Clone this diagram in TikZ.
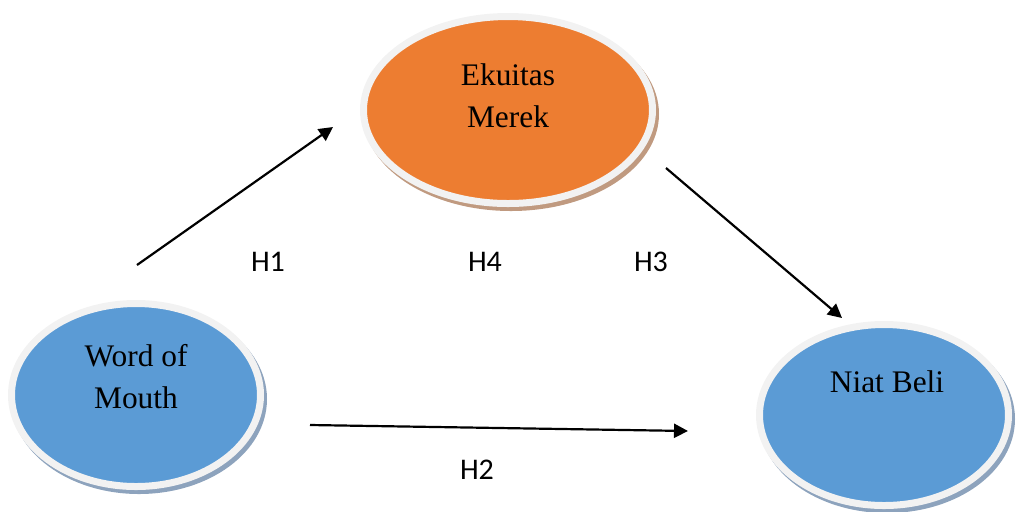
\documentclass[tikz,border=0pt]{standalone}
\usepackage{fontspec}
\setmainfont{Liberation Serif}
\newfontfamily\hfont{Carlito}
\usetikzlibrary{shapes.geometric,arrows.meta}
\definecolor{ekorange}{HTML}{ED7D31}
\definecolor{mblue}{HTML}{5B9BD5}
\definecolor{rimgray}{HTML}{F2F2F2}
\definecolor{orshadow}{HTML}{C09A80}
\definecolor{blshadow}{HTML}{8DA3BD}
\tikzset{
	var/.style={ellipse, draw=rimgray, line width=3.5pt, inner sep=0pt},
	varshadow/.style={preaction={draw=#1, fill=#1, line width=3.5pt,
		transform canvas={xshift=1.5pt, yshift=-2pt}}},
	vartext/.style={align=center, font=\fontsize{15.7}{21}\selectfont},
	hyp/.style={font=\hfont\fontsize{15}{17}\selectfont},
	path/.style={line width=1.1pt, -{Triangle[length=7pt, width=7pt]}}
}
\begin{document}
\begin{tikzpicture}[x=0.5pt, y=-0.5pt]
\useasboundingbox (0,0) rectangle (1018,511);
% variables
\node[var, varshadow=orshadow, fill=ekorange, minimum width=144.5pt, minimum height=93.5pt] (ekuitas) at (508,110) {};
\node[var, varshadow=blshadow, fill=mblue, minimum width=124.5pt, minimum height=91.5pt] (wom) at (136,395) {};
\node[var, varshadow=blshadow, fill=mblue, minimum width=124.5pt, minimum height=90.5pt] (niat) at (884,415) {};
\node[vartext] (ekuitastxt) at (508,96) {Ekuitas\\Merek};
\node[vartext] (womtxt) at (136,377) {Word of\\Mouth};
\node[vartext] (niattxt) at (887,382) {Niat Beli};
% arrow ends
\coordinate (h1a) at (137,265);
\coordinate (h1b) at (333,127);
\coordinate (h3a) at (666,168);
\coordinate (h3b) at (842,318);
\coordinate (h2a) at (310,425);
\coordinate (h2b) at (688,431);
\draw[path] (h1a) -- (h1b);
\draw[path] (h3a) -- (h3b);
\draw[path] (h2a) -- (h2b);
% hypotheses
\node[hyp] (h1) at (268,262) {H1};
\node[hyp] (h4) at (485,262) {H4};
\node[hyp] (h3) at (651,262) {H3};
\node[hyp] (h2) at (477,470) {H2};
\end{tikzpicture}
\end{document}
